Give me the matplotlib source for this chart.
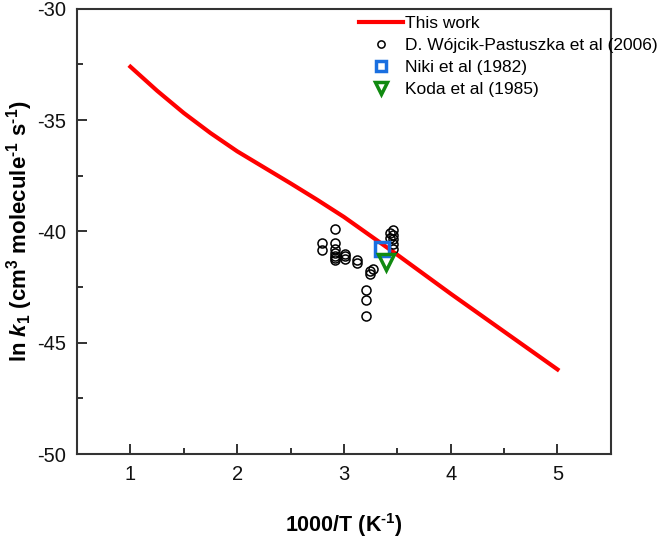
import matplotlib
matplotlib.use("Agg")
import matplotlib.pyplot as plt
from matplotlib.ticker import MultipleLocator

plt.rcParams["font.family"] = ["Liberation Sans", "DejaVu Sans"]
plt.rcParams["axes.unicode_minus"] = False
plt.rcParams["mathtext.fontset"] = "custom"
plt.rcParams["mathtext.rm"] = "Liberation Sans:bold"
plt.rcParams["mathtext.bf"] = "Liberation Sans:bold"
plt.rcParams["mathtext.it"] = "Liberation Sans:italic:bold"
plt.rcParams["mathtext.default"] = "rm"

# This work (model curve)
x_fit = [1.0, 1.25, 1.5, 1.75, 2.0, 2.25, 2.5, 2.75, 3.0, 3.5, 4.0, 4.5, 5.0]
y_fit = [-32.6, -33.68, -34.68, -35.58, -36.4, -37.12, -37.84, -38.58, -39.35,
         -41.05, -42.8, -44.5, -46.2]

# D. Wojcik-Pastuszka et al (2006)
x_wp = [2.79, 2.79,
        2.915, 2.915, 2.915, 2.915, 2.915, 2.915, 2.915,
        3.006, 3.006, 3.006,
        3.122, 3.122,
        3.24, 3.245, 3.27,
        3.204, 3.204, 3.204,
        3.457, 3.457, 3.457, 3.457, 3.457, 3.43, 3.435]
y_wp = [-40.53, -40.85,
        -39.87, -40.5, -40.78, -40.95, -41.09, -41.2, -41.28,
        -41.02, -41.12, -41.22,
        -41.28, -41.44,
        -41.9, -41.8, -41.69,
        -42.65, -43.07, -43.78,
        -39.93, -40.14, -40.36, -40.57, -40.81, -40.07, -40.3]

# Niki et al (1982)
x_niki = [3.356]
y_niki = [-40.8]

# Koda et al (1985)
x_koda = [3.396]
y_koda = [-41.38]

fig = plt.figure(figsize=(6.64, 5.53), dpi=100)
ax = fig.add_axes([0.116, 0.179, 0.804, 0.805])

ax.plot(x_fit, y_fit, color="#ff0000", lw=3, label="This work", zorder=2)
ax.plot(x_wp, y_wp, ls="none", marker="o", ms=6.5, mfc="none", mec="black",
        mew=1.1, label="D. Wójcik-Pastuszka et al (2006)", zorder=3)
ax.plot(x_niki, y_niki, ls="none", marker="s", ms=9.5, mfc="none", mec="#1a6fe0",
        mew=2.5, label="Niki et al (1982)", zorder=4)
ax.plot(x_koda, y_koda, ls="none", marker="v", ms=11, mfc="none", mec="#108a10",
        mew=2.5, label="Koda et al (1985)", zorder=4)

ax.set_xlim(0.5, 5.5)
ax.set_ylim(-50, -30)
ax.xaxis.set_major_locator(MultipleLocator(1))
ax.xaxis.set_minor_locator(MultipleLocator(0.5))
ax.yaxis.set_major_locator(MultipleLocator(5))
ax.yaxis.set_minor_locator(MultipleLocator(2.5))
ax.tick_params(which="both", direction="in", top=False, right=False,
               color="#222222", width=1.3, labelsize=14.5, labelcolor="#111111")
ax.tick_params(which="major", length=7, pad=8)
ax.tick_params(which="minor", length=4)
for s in ax.spines.values():
    s.set_linewidth(1.5)
    s.set_color("#333333")

ax.set_xlabel("1000/T (K$^{\u20101}$)", fontsize=15.5, fontweight="bold")
ax.set_ylabel("ln $\\mathit{k}_1$ (cm$^3$ molecule$^{\u20101}$ s$^{\u20101}$)",
              fontsize=16, fontweight="bold")
ax.xaxis.set_label_coords(0.5, -0.128)
ax.yaxis.set_label_coords(-0.078, 0.5)

ax.legend(loc="upper left", bbox_to_anchor=(0.541, 0.972),
          bbox_transform=fig.transFigure, frameon=False, fontsize=12.5,
          handlelength=2.5, handletextpad=0.15, labelspacing=0.4,
          borderaxespad=0, borderpad=0, markerscale=0.8)

fig.savefig("out.png", dpi=100)
